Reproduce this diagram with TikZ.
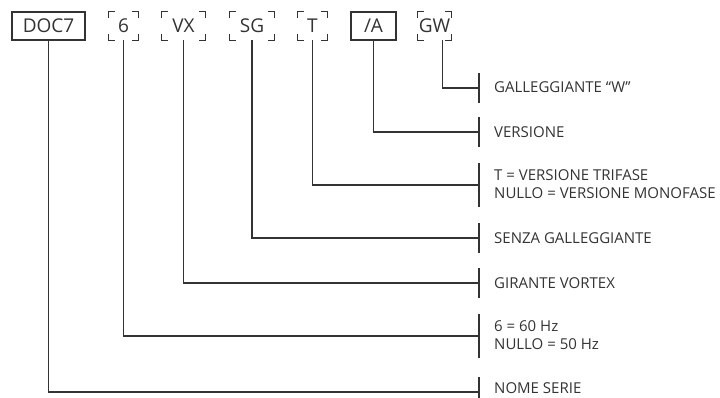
\documentclass[tikz,border=0pt]{standalone}
\usepackage{fontspec}
\setmainfont{Open Sans}
\usetikzlibrary{calc}

\definecolor{ink}{HTML}{333333}

\tikzset{
	codebox/.style={inner sep=0pt, minimum height=28pt, font=\fontsize{19}{21}\selectfont, text=ink},
	legend/.style={anchor=west, inner sep=0pt, align=left, font=\fontsize{15}{18}\selectfont, text=ink},
	wire/.style={draw=ink, line width=1.2pt}
}

% four corner brackets round a code node
\newcommand\bracketbox[1]{
	\draw [wire] ([yshift=-\arm]#1.north west) |- ([xshift=\arm]#1.north west);
	\draw [wire] ([xshift=-\arm]#1.north east) -| ([yshift=-\arm]#1.north east);
	\draw [wire] ([yshift=\arm]#1.south west) |- ([xshift=\arm]#1.south west);
	\draw [wire] ([xshift=-\arm]#1.south east) -| ([yshift=\arm]#1.south east);
}

\begin{document}
\begin{tikzpicture}[x=1pt, y=-1pt]

	%codes have names of the form cdoc, csix ...
	%legend texts have names of the form ldoc, lsix ...

	\def\arm{6pt}
	\def\codey{26}
	\def\tickx{479}
	\def\textx{494}

	\useasboundingbox (0,0) rectangle (720,398);

	%codes in full boxes
	\foreach \name/\label/\position/\width in {doc/DOC7/48.5/73, a/{/A}/373.5/45}
	{
		\node [codebox, draw=ink, line width=1.2pt, minimum width=\width pt] (c\name) at (\position,\codey) {\label};
	}

	%codes in corner brackets
	\foreach \name/\label/\position/\width in {six/6/123.5/29, vx/VX/183.5/43, sg/SG/252/44, t/T/312.5/29, gw/GW/434.5/33}
	{
		\node [codebox, minimum width=\width pt] (c\name) at (\position,\codey) {\label};
		\bracketbox{c\name}
	}

	%legend texts and ticks
	\foreach \name/\y/\ty/\half/\text in {gw/88/87/15/{GALLEGGIANTE “W”}, a/132/132/15/VERSIONE, t/185/184.5/22/{T = VERSIONE TRIFASE\\NULLO = VERSIONE MONOFASE}, sg/238/238/15/SENZA GALLEGGIANTE, vx/283/283/15/GIRANTE VORTEX, six/336/335/22/{6 = 60 Hz\\NULLO = 50 Hz}, doc/392/388.5/15/NOME SERIE}
	{
		\coordinate (k\name) at (\tickx,\y);
		\node [legend] (l\name) at (\textx,\ty) {\text};
		\draw [wire] ([yshift=\half pt]k\name) -- ([yshift=-\half pt]k\name);
	}

	%connectors
	\foreach \name in {doc, six, vx, sg, t, a}
	{
		\draw [wire] (c\name.south) |- (k\name);
	}
	\draw [wire] ([xshift=8pt]cgw.south) |- (kgw);

\end{tikzpicture}
\end{document}
